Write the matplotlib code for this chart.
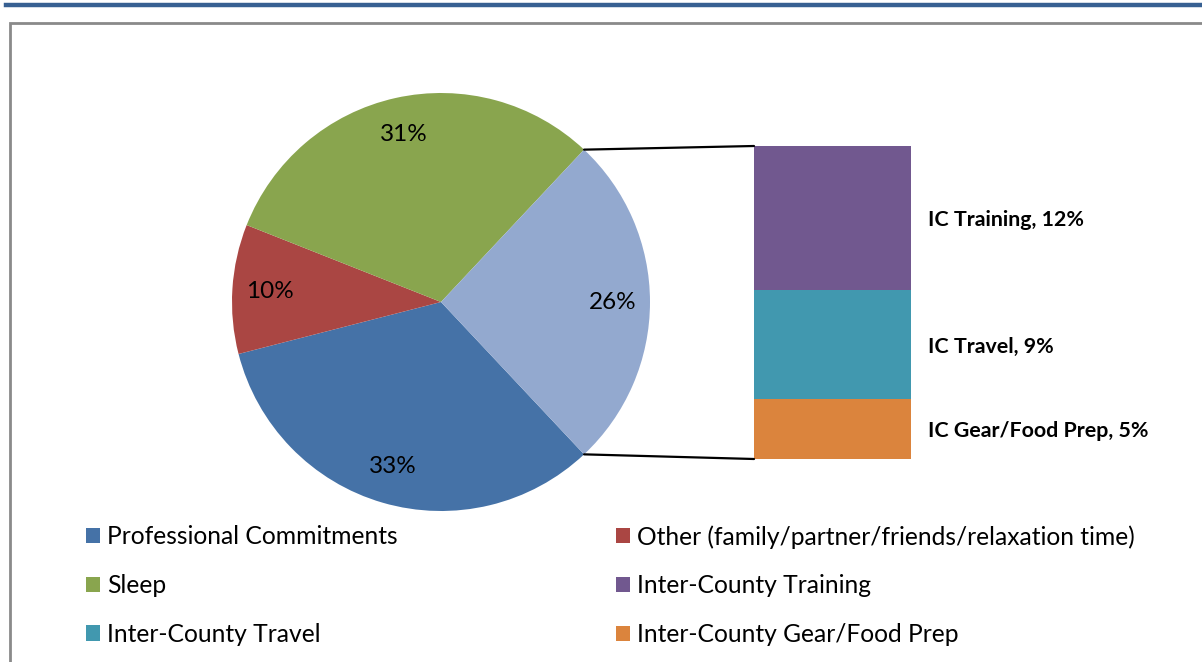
import matplotlib
matplotlib.use("Agg")
import matplotlib.pyplot as plt
from matplotlib.patches import Patch, Rectangle
from matplotlib.patches import ConnectionPatch
from matplotlib.lines import Line2D
import numpy as np

# ---- data ----
pie_labels = ["Professional Commitments",
              "Other (family/partner/friends/relaxation time)",
              "Sleep",
              "Inter-County (combined)"]
pie_values = [33, 10, 31, 26]
pie_colors = ["#4572A7", "#AA4643", "#89A54E", "#93A9CF"]

bar_labels = ["IC Gear/Food Prep", "IC Travel", "IC Training"]
bar_values = [5, 9, 12]
bar_colors = ["#DB843D", "#4198AF", "#71588F"]

legend_col1 = ["Professional Commitments", "Sleep", "Inter-County Travel"]
legend_col1_colors = ["#4572A7", "#89A54E", "#4198AF"]
legend_col2 = ["Other (family/partner/friends/relaxation time)",
               "Inter-County Training", "Inter-County Gear/Food Prep"]
legend_col2_colors = ["#AA4643", "#71588F", "#DB843D"]

FONT = "Lato"
W, H = 1202, 662
fig = plt.figure(figsize=(W / 100, H / 100), dpi=100)


def fx(px):
    return px / W


def fy(py):
    return 1 - py / H


# header rule and chart frame
fig.add_artist(Line2D([fx(6), 1], [fy(4.5), fy(4.5)], color="#376092", lw=3.2))
fig.add_artist(Rectangle((fx(10), fy(700)), fx(1250) - fx(10), fy(23) - fy(700),
                         fill=False, edgecolor="#8A8A8A", lw=2.0,
                         transform=fig.transFigure))

# ---- pie ----
cx, cy, r = 441, 302, 209
axp = fig.add_axes([fx(cx - r), fy(cy + r), fx(2 * r), fy(cy - r) - fy(cy + r)])
half = pie_values[3] / sum(pie_values) * 360 / 2
wedges, texts, autotexts = axp.pie(
    pie_values, colors=pie_colors, startangle=-half, counterclock=False,
    radius=1, autopct="%d%%", pctdistance=0.82,
    textprops=dict(fontsize=17.5, family=FONT, color="black"))
axp.set_xlim(-1, 1)
axp.set_ylim(-1, 1)
axp.set_aspect("auto")
axp.axis("off")

# ---- bar of pie ----
bx0, bx1, by0, by1 = 754, 911, 146, 459
axb = fig.add_axes([fx(bx0), fy(by1), fx(bx1) - fx(bx0), fy(by0) - fy(by1)])
bottom = 0
for lab, v, c in zip(bar_labels, bar_values, bar_colors):
    axb.bar(0.5, v, width=1, bottom=bottom, color=c)
    axb.annotate(f"{lab}, {v}%", xy=(1, bottom + v / 2), xytext=(12, 0),
                 textcoords="offset points", ha="left", va="center_baseline",
                 fontsize=15.4, fontweight="bold", family=FONT, color="black")
    bottom += v
axb.set_xlim(0, 1)
axb.set_ylim(0, bottom)
axb.axis("off")

# connector lines
theta = np.deg2rad(half)
for sgn, yb in ((1, bottom), (-1, 0)):
    con = ConnectionPatch(xyA=(np.cos(theta), sgn * np.sin(theta)), coordsA=axp.transData,
                          xyB=(0, yb), coordsB=axb.transData,
                          color="black", lw=1.6)
    fig.add_artist(con)

# ---- legends ----
fs = 17.7
for items, cols, x0 in ((legend_col1, legend_col1_colors, 86),
                        (legend_col2, legend_col2_colors, 616)):
    handles = [Patch(facecolor=c, edgecolor="none") for c in cols]
    fig.legend(handles, items, loc="upper left",
               bbox_to_anchor=(fx(x0), fy(525)), frameon=False,
               borderpad=0, borderaxespad=0, handlelength=0.57, handleheight=0.57,
               handletextpad=0.28, labelspacing=1.05,
               prop=dict(family=FONT, size=fs))

fig.savefig("out.png", dpi=100)
